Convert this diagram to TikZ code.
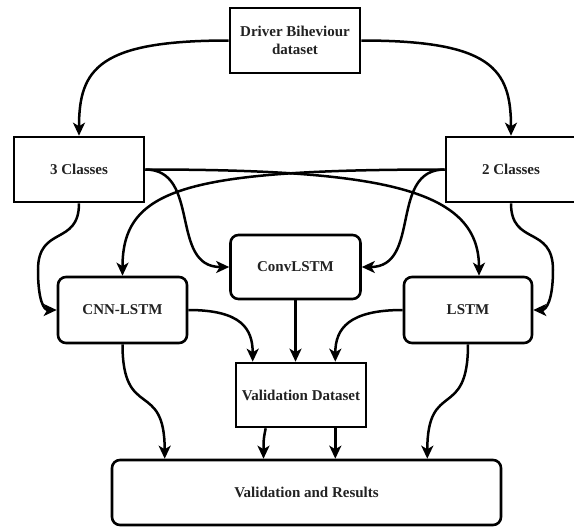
\documentclass[tikz,border=0pt]{standalone}
\usepackage{fontspec}
\setmainfont{Liberation Serif}
\usetikzlibrary{arrows.meta}
\definecolor{txt}{HTML}{222222}
\begin{document}
\begin{tikzpicture}[x=1pt,y=-1pt,
  box/.style={draw, line width=2.6pt, fill=white, text=txt, font=\bfseries\fontsize{15}{18.5}\selectfont, align=center, inner sep=0pt},
  rbox/.style={box, rounded corners=8pt},
  conn/.style={line width=2.5pt, -{Stealth[length=13pt,width=12pt,inset=3.5pt]}}]
\useasboundingbox (0,0) rectangle (574,528);
\node[box, minimum width=130pt, minimum height=65pt] (drv) at (295,40.5) {Driver Biheviour\\dataset};
\node[box, minimum width=130pt, minimum height=65pt] (c3) at (79,169.5) {3 Classes};
\node[box, minimum width=130pt, minimum height=65pt] (c2) at (511,169.5) {2 Classes};
\node[rbox, minimum width=130pt, minimum height=64pt] (conv) at (295.5,267) {ConvLSTM};
\node[rbox, minimum width=129pt, minimum height=66pt] (cnn) at (122.5,310) {CNN-LSTM};
\node[rbox, minimum width=128pt, minimum height=66pt] (lstm) at (468,310) {LSTM};
\node[box, minimum width=130pt, minimum height=64pt] (vd) at (301,395) {Validation Dataset};
\node[rbox, minimum width=389pt, minimum height=65pt] (vr) at (306.5,492.5) {Validation and Results};

\draw[conn] (drv.west) .. controls +(-130,0) and +(0,-67) .. (c3.north);
\draw[conn] (drv.east) .. controls +(130,0) and +(0,-67) .. (c2.north);
\draw[conn] (c3.east) .. controls +(236,0) and +(0,-87) .. ([xshift=11pt]lstm.north);
\draw[conn] (c2.west) .. controls +(-260,0) and +(0,-87) .. (cnn.north);
\draw[conn] (c3.east) .. controls +(56,0) and +(-60,0) .. (conv.west);
\draw[conn] (c2.west) .. controls +(-56,0) and +(60,0) .. (conv.east);
\draw[conn] (c3.south) .. controls +(0,43) and +(0,-45) .. (38,270) .. controls +(0,30) and +(-13,0) .. (cnn.west);
\draw[conn] (c2.south) .. controls +(0,43) and +(0,-45) .. (553,270) .. controls +(0,30) and +(13,0) .. (lstm.east);
\draw[conn] (cnn.east) .. controls +(53,0) and +(0,-33) .. ([xshift=18pt]vd.north west);
\draw[conn] (lstm.west) .. controls +(-54,0) and +(0,-33) .. ([xshift=-32pt]vd.north east);
\draw[conn] (conv.south) -- (conv.south |- vd.north);
\draw[conn] (cnn.south) .. controls +(0,77) and +(0,-80) .. ([xshift=54pt]vr.north west);
\draw[conn] (lstm.south) .. controls +(0,77) and +(0,-80) .. ([xshift=-75pt]vr.north east);
\draw[conn] ([xshift=31pt]vd.south west) .. controls +(-2,10) and +(0,-20) .. ([xshift=-43pt]vr.north);
\draw[conn] ([xshift=-32pt]vd.south east) -- ([xshift=-32pt]vd.south east |- vr.north);
\end{tikzpicture}
\end{document}
